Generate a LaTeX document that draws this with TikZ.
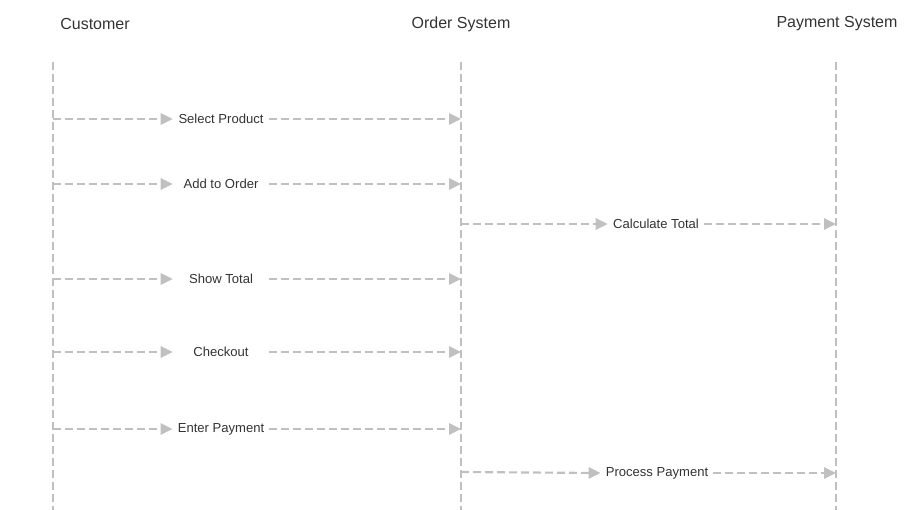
\documentclass[tikz,border=0pt]{standalone}
\usepackage{fontspec}
\setmainfont{Liberation Sans}
\usetikzlibrary{arrows.meta,positioning}

\begin{document}
\begin{tikzpicture}[x=0.75pt, y=-0.75pt,
        every node/.style={font=\fontsize{9.8}{11}\selectfont, text=seqtext},
        header/.style={font=\fontsize{12}{14}\selectfont},
        lifeline/.style={draw=seqgray, line width=1.6pt, dash pattern=on 6pt off 3pt},
        msg/.style={draw=seqgray, line width=1.6pt, dash pattern=on 6pt off 3pt, -{Triangle[length=9pt, width=8.5pt]}},
        msglabel/.style={minimum width=72pt, inner xsep=3.75pt, inner ysep=0pt}]
        \definecolor{seqgray}{RGB}{192,192,192}
        \definecolor{seqtext}{RGB}{51,51,51}

        \useasboundingbox (0,0) rectangle (918,510);

        % Participants
        \node[header] (cust) at (95,24) {Customer};
        \node[header] (order) at (461,24) {Order System};
        \node[header] (pay) at (837,24) {Payment System};

        % Lifelines
        \coordinate (custtop) at (53,62);   \coordinate (custbot) at (53,510);
        \coordinate (ordertop) at (461,62); \coordinate (orderbot) at (461,510);
        \coordinate (paytop) at (836,62);   \coordinate (paybot) at (836,510);
        \draw[lifeline] (custtop) -- (custbot);
        \draw[lifeline] (ordertop) -- (orderbot);
        \draw[lifeline] (paytop) -- (paybot);

        % Select Product
        \coordinate (c1) at (53,119); \coordinate (o1) at (461,119);
        \node[msglabel] (m1) at (221,119) {Select Product};
        \draw[msg] (c1) -- (m1.west);
        \draw[msg] (m1.east) -- (o1);

        % Add to Order
        \coordinate (c2) at (53,184); \coordinate (o2) at (461,184);
        \node[msglabel] (m2) at (221,184) {Add to Order};
        \draw[msg] (c2) -- (m2.west);
        \draw[msg] (m2.east) -- (o2);

        % Calculate Total
        \coordinate (o3) at (461,224); \coordinate (p3) at (836,224);
        \node[msglabel] (m3) at (656,224) {Calculate Total};
        \draw[msg] (o3) -- (m3.west);
        \draw[msg] (m3.east) -- (p3);

        % Show Total
        \coordinate (c4) at (53,279); \coordinate (o4) at (461,279);
        \node[msglabel] (m4) at (221,279) {Show Total};
        \draw[msg] (c4) -- (m4.west);
        \draw[msg] (m4.east) -- (o4);

        % Checkout
        \coordinate (c5) at (53,352); \coordinate (o5) at (461,352);
        \node[msglabel] (m5) at (221,352) {Checkout};
        \draw[msg] (c5) -- (m5.west);
        \draw[msg] (m5.east) -- (o5);

        % Enter Payment
        \coordinate (c6) at (53,429); \coordinate (o6) at (461,429);
        \node[msglabel] (m6) at (221,429) {Enter Payment};
        \draw[msg] (c6) -- (m6.west);
        \draw[msg] (m6.east) -- (o6);

        % Process Payment
        \coordinate (o7) at (461,472); \coordinate (p7) at (836,473);
        \node[msglabel] (m7) at (657,473) {Process Payment};
        \draw[msg] (o7) -- (m7.west);
        \draw[msg] (m7.east) -- (p7);
    \end{tikzpicture}
\end{document}
